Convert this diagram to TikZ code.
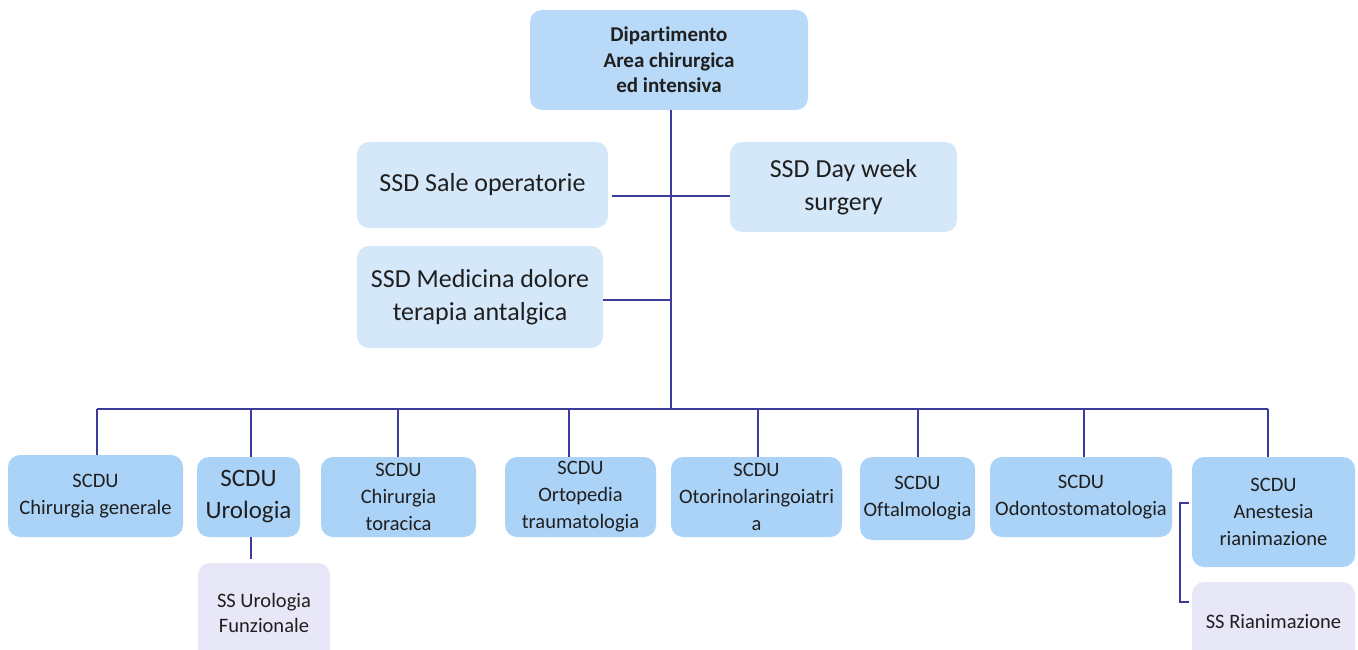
\documentclass[tikz,border=0pt]{standalone}
\usepackage{fontspec}
\setmainfont{Carlito}[Ligatures={NoCommon,NoDiscretionary,NoRare}]
\definecolor{linkblue}{HTML}{3B3B9C}
\definecolor{unitblue}{HTML}{ABD2F7}
\definecolor{headblue}{HTML}{B8DAF8}
\definecolor{ssdblue}{HTML}{D5E8FA}
\definecolor{sslilac}{HTML}{E7E7F8}
\tikzset{
  box/.style={rounded corners=12pt, inner sep=0pt, align=center, text=black!88},
  headbox/.style={box, fill=headblue, font=\bfseries\fontsize{21}{25.5}\selectfont},
  ssdbox/.style={box, fill=ssdblue, font=\fontsize{26}{33}\selectfont},
  unitbox/.style={box, fill=unitblue, font=\fontsize{20.5}{27}\selectfont},
  ssbox/.style={box, fill=sslilac, font=\fontsize{20.5}{25}\selectfont},
  link/.style={draw=linkblue, line width=2.4pt},
}
\begin{document}
\begin{tikzpicture}[x=1pt, y=-1pt]
\useasboundingbox (0,0) rectangle (1358,650);
\begin{scope}
\clip (0,0) rectangle (1358,650);

% department head
\node[headbox, minimum width=278pt, minimum height=100pt] (dept) at (669,60)
  {Dipartimento\\Area chirurgica\\ ed intensiva};

% simple departmental units
\node[ssdbox, minimum width=251pt, minimum height=86pt] (sale) at (482.5,185)
  {SSD Sale operatorie};
\node[ssdbox, minimum width=227pt, minimum height=90pt] (day) at (843.5,187)
  {SSD Day week\\surgery};
\node[ssdbox, minimum width=246pt, minimum height=102pt] (med) at (480,297)
  {SSD Medicina dolore\\terapia antalgica};

% complex units
\node[unitbox, minimum width=175pt, minimum height=82pt] (u1) at (95.5,496)
  {SCDU\\Chirurgia generale};
\node[unitbox, minimum width=103pt, minimum height=80pt,
      font=\fontsize{25}{32}\selectfont] (u2) at (248.5,497)
  {SCDU\\Urologia};
\node[unitbox, minimum width=155pt, minimum height=80pt] (u3) at (398.5,497)
  {SCDU\\Chirurgia\\toracica};
\node[unitbox, minimum width=151pt, minimum height=80pt] (u4) at (580.5,497)
  {SCDU\\Ortopedia\\traumatologia};
\node[unitbox, minimum width=171pt, minimum height=80pt] (u5) at (756.5,497)
  {SCDU\\Otorinolaringoiatri\\a};
\node[unitbox, minimum width=115pt, minimum height=83pt] (u6) at (917.5,498.5)
  {SCDU\\Oftalmologia};
\node[unitbox, minimum width=182pt, minimum height=80pt] (u7) at (1081,497)
  {SCDU\\Odontostomatologia};
\node[unitbox, minimum width=163pt, minimum height=110pt] (u8) at (1273.5,512)
  {SCDU\\Anestesia\\rianimazione};

% simple units
\node[ssbox, minimum width=132pt, minimum height=100pt] (s1) at (264,613)
  {SS Urologia\\Funzionale};
\node[ssbox, minimum width=163pt, minimum height=80pt] (s2) at (1273.5,622)
  {SS Rianimazione};

% junctions on the main spine
\coordinate (jsale) at (671,196);
\coordinate (jmed) at (671,300);
\coordinate (bus) at (671,409);

% spine and side branches
\draw[link] (dept.south -| bus) -- (bus);
\draw[link] ([xshift=4pt]sale.east |- jsale) -- (day.west |- jsale);
\draw[link] (med.east |- jmed) -- (jmed);

% horizontal bus and drops to the complex units
\draw[link] (97,409) -- (1268,409);
\foreach \u/\x in {u1/97, u2/251, u3/398, u4/569, u5/758, u6/918, u7/1084, u8/1268}
  \draw[link] (\x,409) -- (\x,0 |- \u.north);

% sub-unit connectors
\draw[link] (251,0 |- u2.south) -- ++(0,22);
\draw[link] ([xshift=-3pt]u8.west |- 0,503) -- ++(-9,0) |- ([xshift=-3pt]s2.west |- 0,602);
\end{scope}
\end{tikzpicture}
\end{document}
